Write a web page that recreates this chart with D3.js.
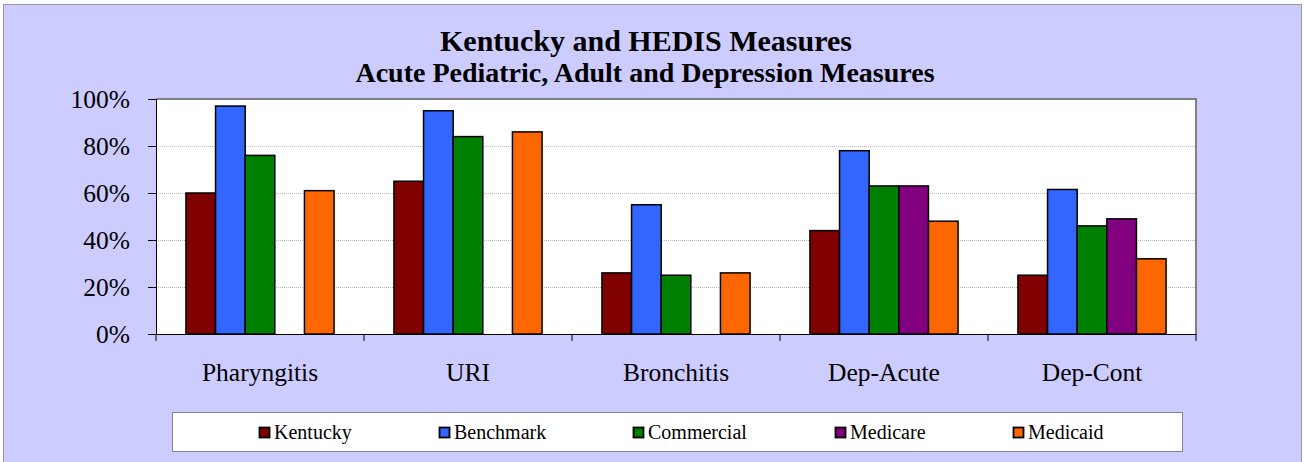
<!DOCTYPE html>
<html>
<head>
<meta charset="utf-8">
<script src="https://cdn.jsdelivr.net/npm/d3@7"></script>
<style>
  body { margin: 0; background: #fff; }
  svg { display: block; font-family: "Liberation Serif", "Times New Roman", serif; }
</style>
</head>
<body>
<div id="chart"></div>
<script>
const categories = ["Pharyngitis", "URI", "Bronchitis", "Dep-Acute", "Dep-Cont"];
const seriesNames = ["Kentucky", "Benchmark", "Commercial", "Medicare", "Medicaid"];
const seriesColors = ["#800000", "#3366FF", "#008000", "#800080", "#FF6600"];
// values in percent, null = no bar
const kentucky   = [60, 65, 26, 44, 25];
const benchmark  = [97, 95, 55, 78, 61.5];
const commercial = [76, 84, 25, 63, 46];
const medicare   = [null, null, null, 63, 49];
const medicaid   = [61, 86, 26, 48, 32];
const yTicks = [0, 20, 40, 60, 80, 100];

const series = [kentucky, benchmark, commercial, medicare, medicaid];

const width = 1304, height = 462;
const plot = { left: 156, top: 99, right: 1196, bottom: 334 };
const serif = "Liberation Serif";

const svg = d3.select("#chart").append("svg")
    .attr("width", width)
    .attr("height", height);

// chart background
svg.append("rect")
    .attr("x", 3.5).attr("y", 4.5)
    .attr("width", 1298).attr("height", 470)
    .attr("fill", "#CCCCFF")
    .attr("stroke", "#999999");

// title
svg.append("text")
    .attr("x", 646).attr("y", 51)
    .attr("text-anchor", "middle")
    .attr("font-family", serif)
    .attr("font-size", 30).attr("font-weight", "bold")
    .text("Kentucky and HEDIS Measures");
svg.append("text")
    .attr("x", 645).attr("y", 82)
    .attr("text-anchor", "middle")
    .attr("font-family", serif)
    .attr("font-size", 28).attr("font-weight", "bold")
    .text("Acute Pediatric, Adult and Depression Measures");

const x0 = d3.scaleBand()
    .domain(categories)
    .range([plot.left, plot.right]);

const x1 = d3.scaleBand()
    .domain(seriesNames)
    .range([0, x0.bandwidth()])
    .paddingOuter(1.01);

const y = d3.scaleLinear()
    .domain([0, 100])
    .range([plot.bottom, plot.top]);

// plot area
svg.append("rect")
    .attr("x", plot.left).attr("y", plot.top)
    .attr("width", plot.right - plot.left)
    .attr("height", plot.bottom - plot.top)
    .attr("fill", "#ffffff");

// gridlines
svg.append("g")
    .selectAll("line")
    .data(yTicks.filter(d => d > 0 && d < 100))
    .join("line")
    .attr("x1", plot.left).attr("x2", plot.right)
    .attr("y1", d => y(d) + 0.5).attr("y2", d => y(d) + 0.5)
    .attr("stroke", "#BBBBBB")
    .attr("stroke-dasharray", "1,1")
    .attr("stroke-width", 1);

// top and right border
svg.append("path")
    .attr("d", `M${plot.left},${plot.top}H${plot.right}V${plot.bottom}`)
    .attr("fill", "none")
    .attr("stroke", "#808080")
    .attr("stroke-width", 2);

// bars
const groups = svg.append("g")
    .selectAll("g")
    .data(categories)
    .join("g")
    .attr("transform", d => `translate(${x0(d)},0)`);

groups.selectAll("rect")
    .data((c, i) => seriesNames.map((s, j) => ({ s, v: series[j][i], color: seriesColors[j] }))
        .filter(d => d.v !== null))
    .join("rect")
    .attr("x", d => x1(d.s))
    .attr("y", d => y(d.v))
    .attr("width", x1.bandwidth())
    .attr("height", d => y(0) - y(d.v))
    .attr("fill", d => d.color)
    .attr("stroke", "#000")
    .attr("stroke-width", 1.5);

// y axis
const yAxis = svg.append("g")
    .attr("transform", `translate(${plot.left},0)`)
    .call(d3.axisLeft(y).tickValues(yTicks).tickFormat(d => d + "%").tickSize(8).tickPadding(18));
yAxis.select(".domain").attr("stroke", "#000");
yAxis.selectAll("text").attr("font-size", 25.5).attr("font-family", serif).attr("fill", "#000");

// x axis
const xAxis = svg.append("g")
    .attr("transform", `translate(0,${plot.bottom})`)
    .call(d3.axisBottom(x0).tickSize(0).tickPadding(29));
xAxis.select(".domain").attr("stroke", "#000");
xAxis.selectAll("text").attr("font-size", 25.5).attr("font-family", serif).attr("fill", "#000");
xAxis.append("g")
    .selectAll("line")
    .data(categories.map(c => x0(c)).concat([plot.right]))
    .join("line")
    .attr("x1", d => d).attr("x2", d => d)
    .attr("y1", 0).attr("y2", 7)
    .attr("stroke", "#000");

// legend
const legend = svg.append("g");
legend.append("rect")
    .attr("x", 172.5).attr("y", 412.5)
    .attr("width", 1010).attr("height", 39)
    .attr("fill", "#fff")
    .attr("stroke", "#8080A0");

const legendX = [259, 439, 633, 835, 1013];
const items = legend.selectAll("g.item")
    .data(seriesNames)
    .join("g")
    .attr("class", "item")
    .attr("transform", (d, i) => `translate(${legendX[i]},427)`);
items.append("rect")
    .attr("x", 0.5).attr("y", 0.5)
    .attr("width", 10).attr("height", 10)
    .attr("fill", (d, i) => seriesColors[i])
    .attr("stroke", "#000")
    .attr("stroke-width", 1.8);
items.append("text")
    .attr("x", 15).attr("y", 12)
    .attr("font-family", serif)
    .attr("font-size", 20)
    .attr("fill", "#000")
    .text(d => d);
</script>
</body>
</html>
